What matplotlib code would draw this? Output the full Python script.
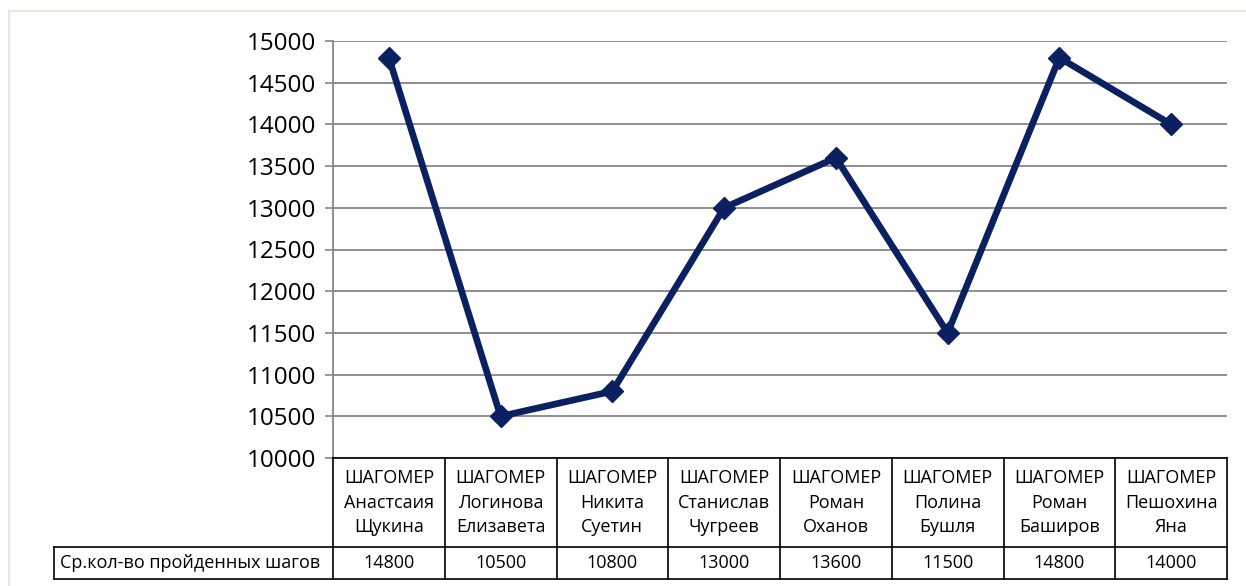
import matplotlib
matplotlib.use("Agg")
import numpy as np
from matplotlib import pyplot as plt

plt.rcParams['font.family'] = ['Open Sans', 'DejaVu Sans']

names = ['ШАГОМЕР\nАнастсаия\nЩукина', 'ШАГОМЕР\nЛогинова\nЕлизавета',
         'ШАГОМЕР\nНикита\nСуетин', 'ШАГОМЕР\nСтанислав\nЧугреев',
         'ШАГОМЕР\nРоман\nОханов', 'ШАГОМЕР\nПолина\nБушля',
         'ШАГОМЕР\nРоман\nБаширов', 'ШАГОМЕР\nПешохина\nЯна']
steps = [14800, 10500, 10800, 13000, 13600, 11500, 14800, 14000]
series_name = 'Ср.кол-во пройденных шагов'
y_ticks = list(range(10000, 15001, 500))

W, H = 1246, 586
fig = plt.figure(figsize=(W / 100, H / 100), dpi=100)

# light outer frame like the Excel chart area
frame = '#E9E7DA'
fig.add_artist(plt.Line2D([9 / W, 9 / W], [0, 1 - 11 / H], color=frame, lw=1.5))
fig.add_artist(plt.Line2D([9 / W, 1], [1 - 11 / H, 1 - 11 / H], color=frame, lw=1.5))

left, right, top, bottom = 333, 1227, 41, 458
ax = fig.add_axes([left / W, 1 - bottom / H, (right - left) / W, (bottom - top) / H])

x = np.arange(len(steps))
ax.plot(x, steps, color='#0B2060', lw=4.8, marker='D', ms=11.5, zorder=3,
        solid_joinstyle='miter')

ax.set_xlim(-0.5, len(steps) - 0.5)
ax.set_ylim(10000, 15000)
ax.set_yticks(y_ticks)
ax.tick_params(axis='y', labelsize=17.5, length=6, width=1.2, color='#868686', pad=6)
ax.set_xticks([])
ax.grid(axis='y', color='#868686', lw=1.3)
ax.set_axisbelow(True)
for s in ['top', 'right', 'bottom']:
    ax.spines[s].set_visible(False)
ax.spines['left'].set_color('#868686')
ax.spines['left'].set_linewidth(1.3)

# data table under the axis
n = len(steps)
ph = bottom - top
r1 = -(547 - bottom) / ph
r2 = -(579 - bottom) / ph
lab_x = (54 - left) / (right - left) * n - 0.5
kw = dict(color='black', lw=1.2, clip_on=False, zorder=4)
tr = ax.get_xaxis_transform()
ax.plot([-0.5, n - 0.5], [0, 0], transform=tr, **kw)
ax.plot([lab_x, n - 0.5], [r1, r1], transform=tr, **kw)
ax.plot([lab_x, n - 0.5], [r2, r2], transform=tr, **kw)
ax.plot([lab_x, lab_x], [r1, r2], transform=tr, **kw)
for b in np.arange(n + 1) - 0.5:
    ax.plot([b, b], [0, r2], transform=tr, **kw)

for i, (nm, v) in enumerate(zip(names, steps)):
    ax.text(i, r1 / 2, nm, transform=tr, ha='center', va='center', fontsize=13,
            linespacing=1.45)
    ax.text(i, (r1 + r2) / 2, str(v), transform=tr, ha='center', va='center',
            fontsize=13)
ax.text(lab_x + 0.05, (r1 + r2) / 2, series_name, transform=tr, ha='left',
        va='center', fontsize=13)

fig.savefig('out.png', dpi=100)
